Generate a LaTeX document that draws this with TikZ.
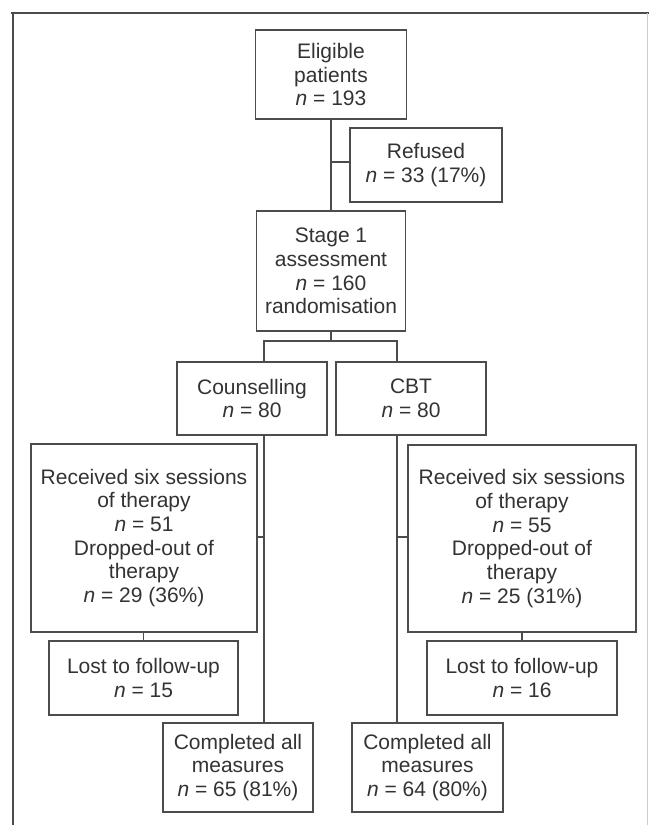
\documentclass[tikz,border=0pt]{standalone}
\usepackage{fontspec}
\setmainfont{Liberation Sans}
\definecolor{ink}{gray}{0.2}
\definecolor{edge}{gray}{0.3}
\definecolor{faint}{gray}{0.8}
\newcommand{\nn}{\textit{n}}
\begin{document}
\begin{tikzpicture}[x=1pt,y=-1pt,
  box/.style={draw=edge,line width=1.1pt,text=ink,inner sep=0pt,align=center,
    font=\fontsize{21}{23.7}\selectfont},
  link/.style={draw=edge,line width=1.1pt}]
\useasboundingbox[fill=white] (0,0) rectangle (649,825);
% frame
\draw[edge,line width=1.8pt] (11,13) -- (649,13);
\draw[edge,line width=1.4pt] (13,13) -- (13,825);
\draw[faint,line width=0.8pt] (647,13) -- (647,825);
% nodes
\node[box,minimum width=151pt,minimum height=89pt] (elig) at (331,74.5) {Eligible\\patients\\\nn{} = 193};
\node[box,minimum width=152pt,minimum height=74pt] (ref) at (426,165) {Refused\\\nn{} = 33 (17\%)};
\node[box,minimum width=149pt,minimum height=120pt] (stage) at (331,271) {Stage 1\\assessment\\\nn{} = 160\\randomisation};
\node[box,minimum width=150pt,minimum height=73pt] (couns) at (252,398.5) {Counselling\\\nn{} = 80};
\node[box,minimum width=150pt,minimum height=73pt] (cbt) at (411,398.5) {CBT\\\nn{} = 80};
\node[box,minimum width=226pt,minimum height=188pt] (recL) at (144,538) {Received six sessions\\of therapy\\\nn{} = 51\\Dropped-out of\\therapy\\\nn{} = 29 (36\%)};
\node[box,minimum width=228pt,minimum height=187pt] (recR) at (522,538.5) {Received six sessions\\of therapy\\\nn{} = 55\\Dropped-out of\\therapy\\\nn{} = 25 (31\%)};
\node[box,minimum width=189pt,minimum height=74pt] (lostL) at (143.5,678) {Lost to follow-up\\\nn{} = 15};
\node[box,minimum width=190pt,minimum height=74pt] (lostR) at (522,678) {Lost to follow-up\\\nn{} = 16};
\node[box,minimum width=150pt,minimum height=89pt] (compL) at (238,767.5) {Completed all\\measures\\\nn{} = 65 (81\%)};
\node[box,minimum width=151pt,minimum height=89pt] (compR) at (427.5,767.5) {Completed all\\measures\\\nn{} = 64 (80\%)};
% helper coordinates
\coordinate (refy) at (331,162);
\coordinate (split) at (331,341);
\coordinate (armL) at (264,341);
\coordinate (armR) at (397,341);
\coordinate (stubL) at (264,537);
\coordinate (stubR) at (397,537);
% connectors
\draw[link] (elig.south) -- (stage.north);
\draw[link] (refy) -- (refy -| ref.west);
\draw[link] (stage.south) -- (split);
\draw[link] (couns.north -| armL) -- (armL) -- (armR) -- (cbt.north -| armR);
\draw[link] (couns.south -| armL) -- (compL.north -| armL);
\draw[link] (cbt.south -| armR) -- (compR.north -| armR);
\draw[link] (stubL) -- (stubL -| recL.east);
\draw[link] (stubR) -- (stubR -| recR.west);
\draw[link] (recL.south -| lostL.north) -- (lostL.north);
\draw[link] (recR.south -| lostR.north) -- (lostR.north);
\end{tikzpicture}
\end{document}
